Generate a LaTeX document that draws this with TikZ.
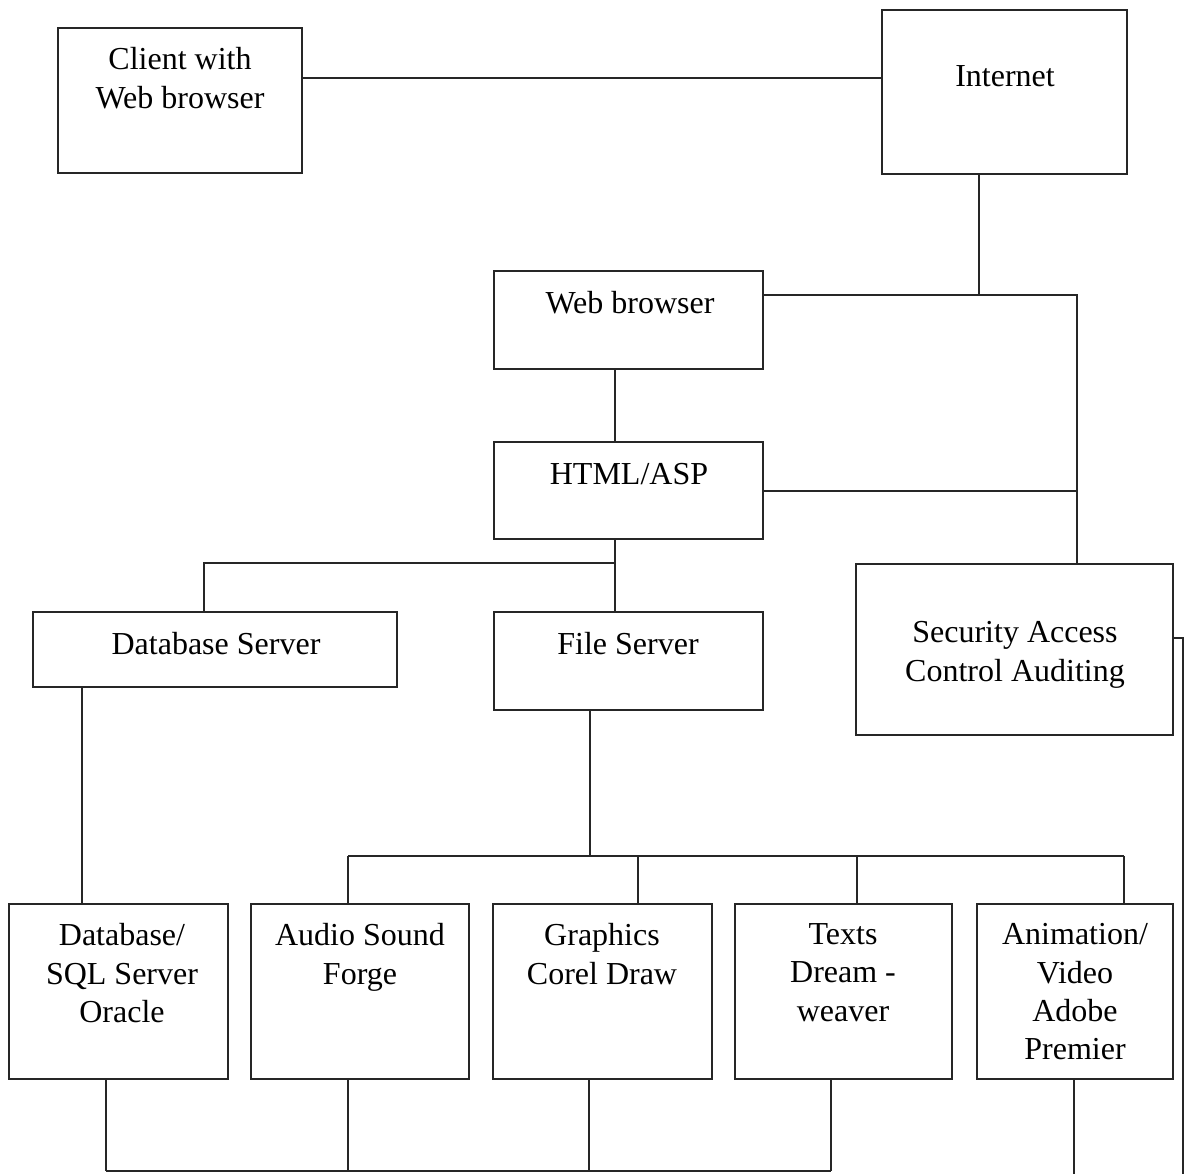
\documentclass[tikz,border=0pt]{standalone}
\usepackage{fontspec}
\setmainfont{Liberation Serif}
\begin{document}
\begin{tikzpicture}[x=1pt,y=-1pt,
  box/.style={draw=black!85, line width=1.4pt, inner sep=0pt, rectangle},
  wire/.style={draw=black!85, line width=1.4pt},
  lbl/.style={inner sep=0pt, anchor=north, align=center,
    font=\fontsize{32}{38.3}\selectfont, execute at begin node=\strut}]
\useasboundingbox (0,0) rectangle (1188,1174);
% boxes
\node[box, minimum width=244pt, minimum height=145pt] (client) at (180,100.5) {};
\node[box, minimum width=245pt, minimum height=164pt] (internet) at (1004.5,92) {};
\node[box, minimum width=269pt, minimum height=98pt] (web) at (628.5,320) {};
\node[box, minimum width=269pt, minimum height=97pt] (html) at (628.5,490.5) {};
\node[box, minimum width=364pt, minimum height=75pt] (dbs) at (215,649.5) {};
\node[box, minimum width=269pt, minimum height=98pt] (file) at (628.5,661) {};
\node[box, minimum width=317pt, minimum height=171pt] (sec) at (1014.5,649.5) {};
\node[box, minimum width=219pt, minimum height=175pt] (db2) at (118.5,991.5) {};
\node[box, minimum width=218pt, minimum height=175pt] (audio) at (360,991.5) {};
\node[box, minimum width=219pt, minimum height=175pt] (gfx) at (602.5,991.5) {};
\node[box, minimum width=217pt, minimum height=175pt] (texts) at (843.5,991.5) {};
\node[box, minimum width=196pt, minimum height=175pt] (anim) at (1075,991.5) {};
% labels
\node[lbl] (tclient) at (180,47.4) {Client with\\Web browser};
\node[lbl] (tinternet) at (1005,59.4) {Internet};
\node[lbl] (tweb) at (630,286.4) {Web browser};
\node[lbl] (thtml) at (629,457.4) {HTML/ASP};
\node[lbl] (tdbs) at (216,627.4) {Database Server};
\node[lbl] (tfile) at (628,627.4) {File Server};
\node[lbl] (tsec) at (1015,621.4) {Security Access\\Control Auditing};
\node[lbl] (tdb2) at (122,923.4) {Database/\\SQL Server\\Oracle};
\node[lbl] (taudio) at (360,923.4) {Audio Sound\\Forge};
\node[lbl] (tgfx) at (602,923.4) {Graphics\\Corel Draw};
\node[lbl] (ttexts) at (843,923.4) {Texts\\Dream -\\weaver};
\node[lbl] (tanim) at (1075,923.4) {Animation/\\Video\\Adobe\\Premier};
% connectors
\draw[wire] ([yshift=22.5pt]client.east) -- ([yshift=22.5pt]client.east -| internet.west);
\coordinate (rtop) at (1077,295);
\draw[wire] ([yshift=25pt]web.east) -- (rtop) -- ([xshift=62.5pt]sec.north);
\draw[wire] ([xshift=-25.5pt]internet.south) -- ([xshift=-25.5pt]internet.south |- rtop);
\draw[wire] ([yshift=-0.5pt]html.east) -- ([yshift=-0.5pt]html.east -| rtop);
\draw[wire] ([xshift=-13.5pt]web.south) -- ([xshift=-13.5pt]html.north);
\coordinate (hb) at (615,563);
\coordinate (hl) at (204,563);
\draw[wire] ([xshift=-13.5pt]html.south) -- (hb) -- (hl) -- ([xshift=-11pt]dbs.north);
\draw[wire] (hb) -- ([xshift=-13.5pt]file.north);
\draw[wire] ([xshift=-133pt]dbs.south) -- ([xshift=-36.5pt]db2.north);
\coordinate (fb) at (590,856);
\coordinate (bl) at (348,856);
\coordinate (br) at (1124,856);
\draw[wire] ([xshift=-38.5pt]file.south) -- (fb);
\draw[wire] (bl) -- (br);
\draw[wire] (bl) -- ([xshift=-12pt]audio.north);
\draw[wire] ([xshift=35.5pt]gfx.north) -- ([xshift=35.5pt]gfx.north |- br);
\draw[wire] ([xshift=13.5pt]texts.north) -- ([xshift=13.5pt]texts.north |- br);
\draw[wire] (br) -- ([xshift=49pt]anim.north);
% bottom bus
\coordinate (bot1) at (106,1171);
\coordinate (bot2) at (831,1171);
\draw[wire] (bot1) -- (bot2);
\draw[wire] ([xshift=-12.5pt]db2.south) -- (bot1);
\draw[wire] ([xshift=-12pt]audio.south) -- ([xshift=-12pt]audio.south |- bot1);
\draw[wire] ([xshift=-13.5pt]gfx.south) -- ([xshift=-13.5pt]gfx.south |- bot1);
\draw[wire] ([xshift=-12.5pt]texts.south) -- (bot2);
\coordinate (animend) at (1074,1176);
\draw[wire] ([xshift=-1pt]anim.south) -- (animend);
\coordinate (secr) at (1183,638);
\coordinate (secend) at (1183,1176);
\draw[wire] ([yshift=11.5pt]sec.east) -- (secr) -- (secend);
\end{tikzpicture}
\end{document}
